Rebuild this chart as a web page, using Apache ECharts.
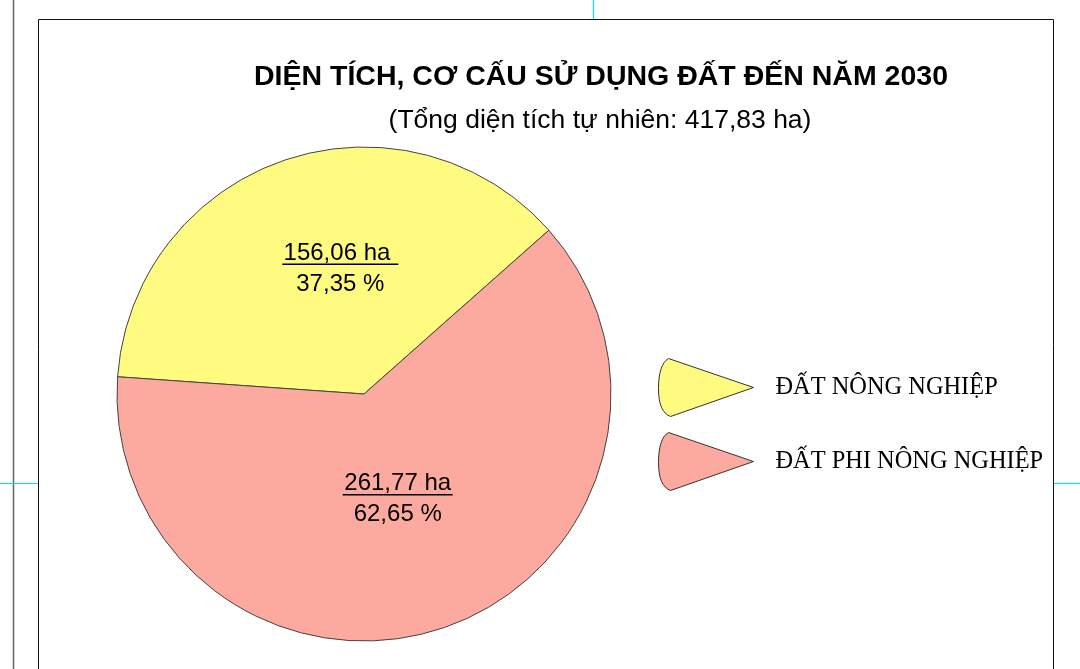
<!DOCTYPE html>
<html>
<head>
<meta charset="utf-8">
<script src="https://cdn.jsdelivr.net/npm/echarts@6/dist/echarts.min.js"></script>
<style>
html,body{margin:0;padding:0;background:#fff;}
#chart{width:1080px;height:669px;}
</style>
</head>
<body>
<div id="chart"></div>
<script>
const categories = ['ĐẤT NÔNG NGHIỆP', 'ĐẤT PHI NÔNG NGHIỆP'];
const areaHa = [156.06, 261.77];
const titleText = 'DIỆN TÍCH, CƠ CẤU SỬ DỤNG ĐẤT ĐẾN NĂM 2030';
const subtitleText = '(Tổng diện tích tự nhiên: 417,83 ha)';

const sliceColors = ['#FFFB80', '#FCA99F'];
const underlineWidths = [116, 110];
const trailing = [' ', ''];
const labelShift = [[17, -1], [-7, -10]];

const chart = echarts.init(document.getElementById('chart'), null, {renderer: 'canvas'});
const fmt = v => v.toFixed(2).replace('.', ',');

const wedge = 'path://M10,0 L95,29 L12,58 C4,55 0,46 0,30 C0,15 3,4 10,0 Z';

const seriesData = categories.map((name, i) => ({
  name: name,
  value: areaHa[i],
  itemStyle: {color: sliceColors[i]},
  label: {
    formatter: p => '{v|' + fmt(p.value) + ' ha' + trailing[i] + '}\n{u|}\n{p|' + fmt(p.percent) + ' %}',
    rich: {
      v: {fontFamily: 'Liberation Sans, Arial', fontSize: 24, color: '#000', align: 'center', lineHeight: 18},
      u: {width: underlineWidths[i], height: 1.5, backgroundColor: '#000', align: 'center', lineHeight: 4},
      p: {fontFamily: 'Liberation Sans, Arial', fontSize: 24, color: '#000', align: 'center', lineHeight: 36}
    }
  }
}));

chart.setOption({
  animation: false,
  backgroundColor: '#fff',
  graphic: [
    {type: 'line', shape: {x1: 13.5, y1: 0, x2: 13.5, y2: 669}, style: {stroke: '#666', lineWidth: 1.5}, silent: true},
    {type: 'rect', shape: {x: 38.5, y: 19.5, width: 1015, height: 700}, style: {fill: 'none', stroke: '#111', lineWidth: 1}, silent: true},
    {type: 'line', shape: {x1: 593.5, y1: 0, x2: 593.5, y2: 19}, style: {stroke: '#00E5E8', lineWidth: 1.2}, silent: true},
    {type: 'line', shape: {x1: 0, y1: 483.5, x2: 38, y2: 483.5}, style: {stroke: '#00E5E8', lineWidth: 1.2}, silent: true},
    {type: 'line', shape: {x1: 1054, y1: 483.5, x2: 1080, y2: 483.5}, style: {stroke: '#00E5E8', lineWidth: 1.2}, silent: true}
  ],
  title: [
    {text: titleText, left: 596, top: 58, textAlign: 'center',
     textStyle: {fontFamily: 'Liberation Sans, Arial', fontSize: 28.5, fontWeight: 'bold', color: '#000'}},
    {text: subtitleText, left: 595, top: 102, textAlign: 'center',
     textStyle: {fontFamily: 'Liberation Sans, Arial', fontSize: 26.5, fontWeight: 'normal', color: '#000'}}
  ],
  legend: {
    orient: 'vertical',
    left: 653,
    top: 353,
    itemWidth: 95,
    itemHeight: 58,
    itemGap: 15,
    icon: wedge,
    itemStyle: {borderColor: '#333', borderWidth: 1},
    textStyle: {fontFamily: 'Liberation Serif, Times New Roman', fontSize: 24.4, color: '#000', padding: [0, 0, 0, 17]},
    data: categories,
    selectedMode: false
  },
  series: [{
    type: 'pie',
    center: [364, 394],
    radius: 247,
    startAngle: 176,
    clockwise: true,
    silent: true,
    itemStyle: {borderColor: '#444', borderWidth: 1},
    label: {show: true, position: 'inside'},
    labelLine: {show: false},
    labelLayout: p => ({dx: labelShift[p.dataIndex][0], dy: labelShift[p.dataIndex][1]}),
    data: seriesData
  }]
});
</script>
</body>
</html>
